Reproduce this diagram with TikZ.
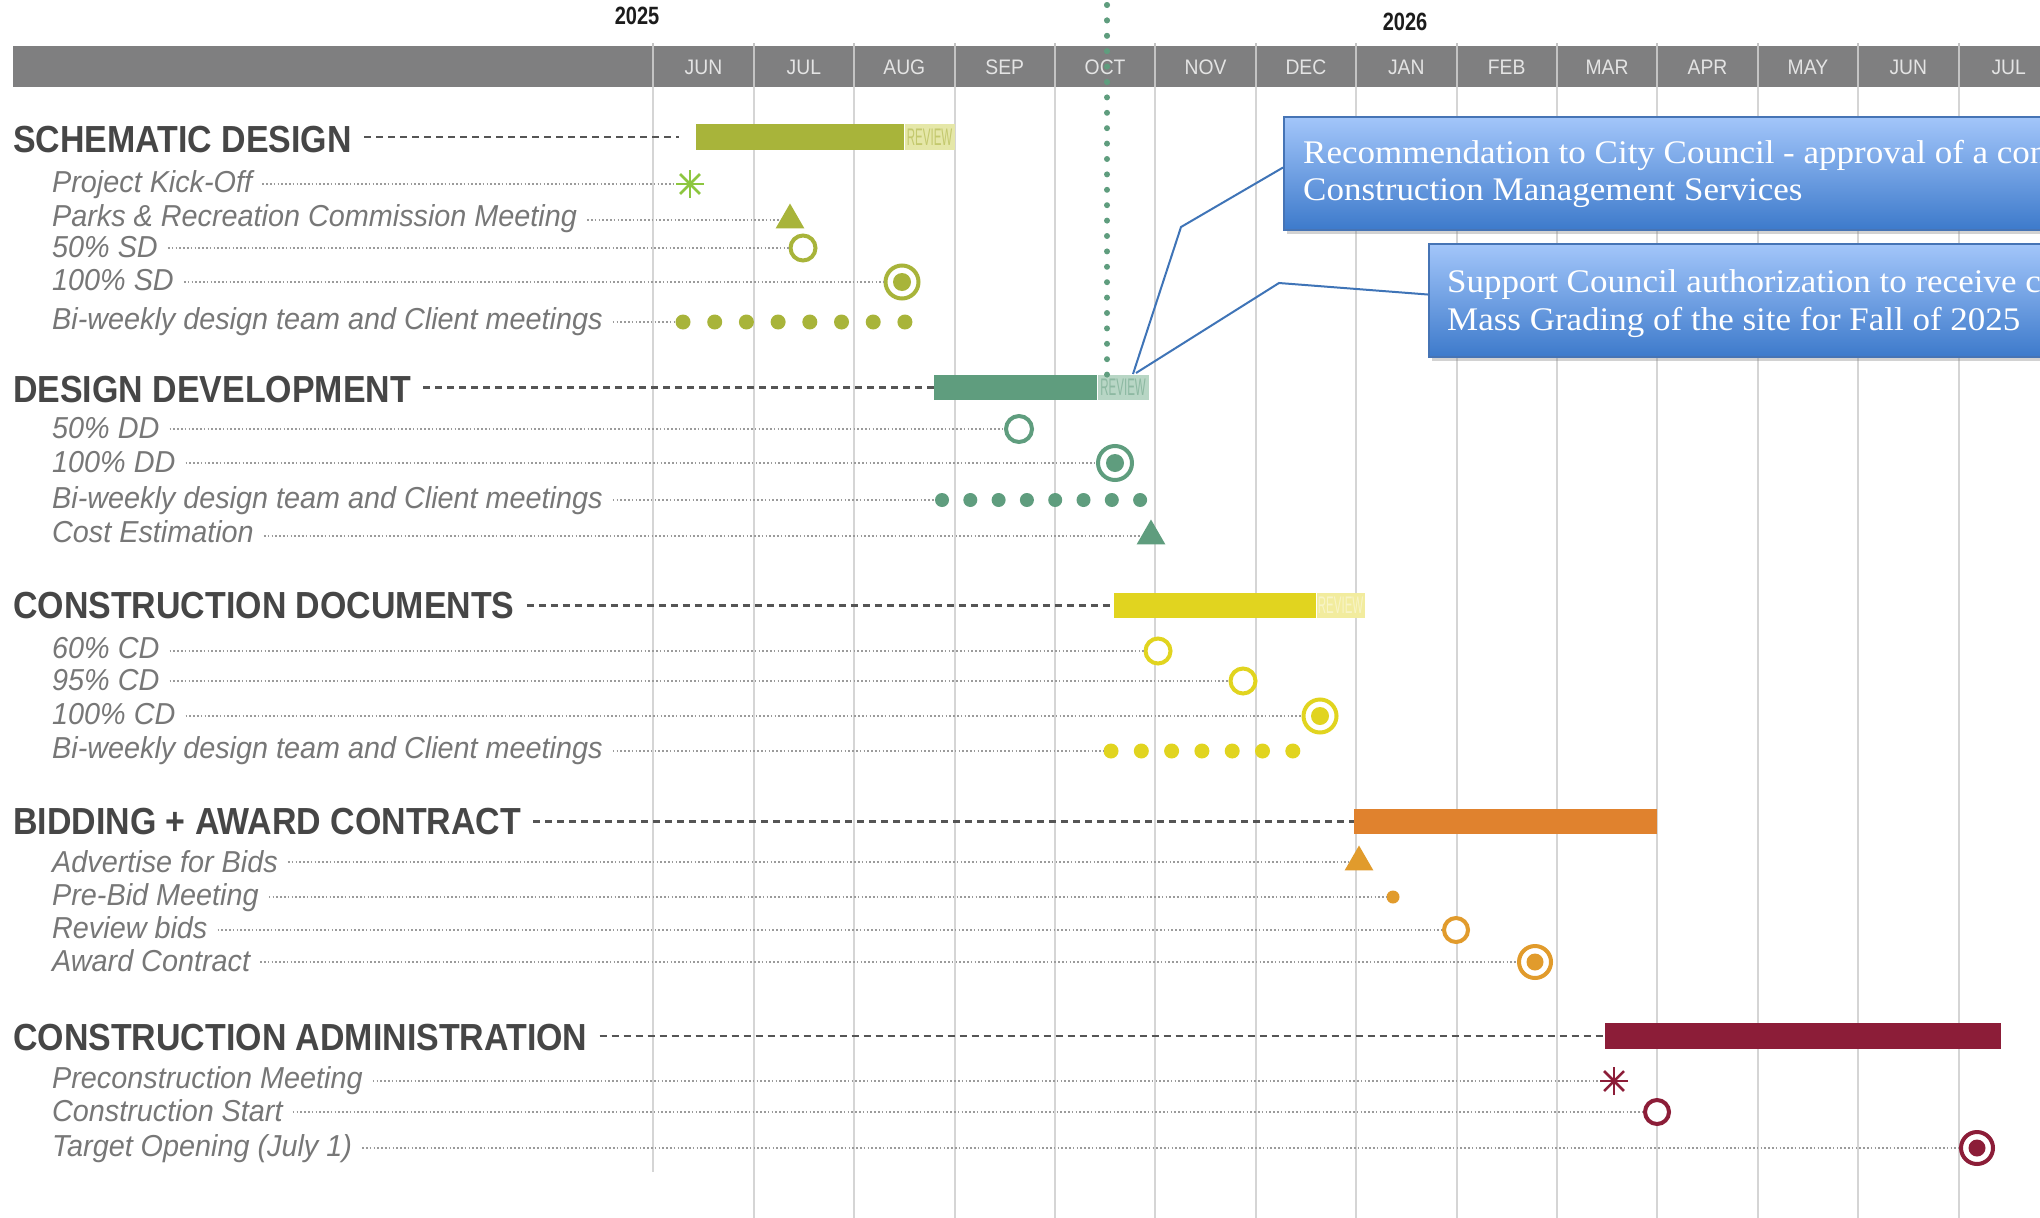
\documentclass[tikz,border=0pt]{standalone}
\usepackage{fontspec}
\usetikzlibrary{shapes.geometric,shadows,calc}
\newfontfamily\headfont[FakeStretch=0.9]{Liberation Sans}
\newfontfamily\itemfont[FakeStretch=0.95]{Liberation Sans}
\newfontfamily\yearfont[FakeStretch=0.8]{Liberation Sans}
\newfontfamily\monthfont[FakeStretch=0.92]{Liberation Sans}
\newfontfamily\revfont[FakeStretch=0.48]{Liberation Sans}
\newfontfamily\boxfont[FakeStretch=1.06]{Liberation Serif}
\definecolor{headc}{HTML}{464646}
\definecolor{itemc}{HTML}{777777}
\definecolor{dashc}{HTML}{555555}
\definecolor{ldrc}{HTML}{9B9B9B}
\definecolor{gridc}{HTML}{D5D5D5}
\definecolor{hdr}{HTML}{7F7F80}
\definecolor{sepc}{HTML}{C4C4C4}
\definecolor{monc}{HTML}{E4E4E4}
\definecolor{yrc}{HTML}{1C1C1C}
\definecolor{sdc}{HTML}{A8B43A}
\definecolor{sdrev}{HTML}{E5E7A8}
\definecolor{sdrevt}{HTML}{C4C96E}
\definecolor{sdast}{HTML}{8DC63F}
\definecolor{ddc}{HTML}{5F9D7E}
\definecolor{ddrev}{HTML}{B8D6C5}
\definecolor{ddrevt}{HTML}{8DB9A2}
\definecolor{cdc}{HTML}{E1D41F}
\definecolor{cdrev}{HTML}{F2EC9E}
\definecolor{cdrevt}{HTML}{F8F4C6}
\definecolor{bac}{HTML}{E0822E}
\definecolor{bam}{HTML}{E19B2C}
\definecolor{cac}{HTML}{8C1D38}
\definecolor{boxtop}{HTML}{A3C6FA}
\definecolor{boxbot}{HTML}{3D7ACB}
\definecolor{boxedge}{HTML}{4674B5}
\definecolor{connc}{HTML}{3F74B7}
\begin{document}
\begin{tikzpicture}[x=1pt,y=-1pt,
  htext/.style={font=\headfont\bfseries\fontsize{37.7}{40}\selectfont, text=headc, anchor=base west, inner xsep=12pt, inner ysep=0pt},
  itext/.style={font=\itemfont\itshape\fontsize{30.3}{32}\selectfont, text=itemc, anchor=base west, inner xsep=10pt, inner ysep=0pt},
  hdline/.style={draw=dashc, line width=2.5pt, dash pattern=on 7pt off 5pt},
  ldr/.style={draw=ldrc, line width=2pt, dash pattern=on 1.6pt off 2.2pt},
  gline/.style={draw=gridc, line width=2pt},
  gbar/.style={rectangle, inner sep=0pt, anchor=north west, minimum height=26pt},
  grev/.style={rectangle, inner sep=0pt, anchor=north west, minimum height=26pt, font=\revfont\fontsize{24}{24}\selectfont},
  mring/.style={circle, draw=#1, fill=white, line width=4pt, inner sep=0pt, minimum size=25pt},
  mtarget/.style={circle, draw=#1, fill=white, line width=4pt, inner sep=0pt, minimum size=33pt},
  mdot/.style={circle, fill=#1, inner sep=0pt, minimum size=15pt},
  mtri/.style={regular polygon, regular polygon sides=3, fill=#1, inner sep=0pt, minimum size=33pt},
  mast/.style={circle, inner sep=0pt, minimum size=28pt},
  spoke/.style={draw=#1, line width=2.5pt},
  monthlbl/.style={font=\monthfont\fontsize{21}{21}\selectfont, text=monc, inner sep=0pt},
  yearlbl/.style={font=\yearfont\bfseries\fontsize{25}{25}\selectfont, text=yrc, inner sep=0pt},
  callout/.style={rectangle, draw=boxedge, line width=1.5pt, top color=boxtop, bottom color=boxbot, inner sep=0pt, anchor=north west, minimum width=900pt, minimum height=113pt, drop shadow={shadow xshift=3pt, shadow yshift=-4pt, opacity=0.35}},
  boxtxt/.style={font=\boxfont\fontsize{33}{37}\selectfont, text=white, anchor=base west, inner sep=0pt},
  conn/.style={draw=connc, line width=2pt},
  octline/.style={draw=ddc, line width=6pt, line cap=round, dash pattern=on 0pt off 15.4pt}
]
\useasboundingbox (0,0) rectangle (2040,1218);
\clip (0,0) rectangle (2040,1218);
\fill[white] (0,0) rectangle (2040,1218);
\def\xo{653.3}
\def\mw{100.4}
% grid lines
\draw[gline] (\xo,87) -- (\xo,1172);
\foreach \i in {1,...,13} \draw[gline] ({\xo+\mw*\i},87) -- ({\xo+\mw*\i},1218);
% header
\fill[hdr] (13,46) rectangle (2040,87);
\foreach \i in {0,...,13} \draw[draw=sepc, line width=2pt] ({\xo+\mw*\i},43) -- ({\xo+\mw*\i},87);
\foreach \m [count=\i from 0] in {JUN,JUL,AUG,SEP,OCT,NOV,DEC,JAN,FEB,MAR,APR,MAY,JUN,JUL}
  \node[monthlbl] (mon\i) at ({\xo+\mw*(\i+0.5)},67) {\m};
\node[yearlbl] (y25) at (637,16) {2025};
\node[yearlbl] (y26) at (1405,22) {2026};

% ===== SCHEMATIC DESIGN
\node[htext] (sdh) at (1,152) {SCHEMATIC DESIGN};
\node[gbar, fill=sdc, minimum width=208pt] (sdbar) at (696,124) {};
\node[grev, fill=sdrev, text=sdrevt, minimum width=50pt] (sdrv) at (sdbar.north east) {REVIEW};
\draw[hdline] (sdh.east |- sdbar.west) -- ($(sdbar.west)+(-17,0)$);
\node[itext] (sd1) at (42,192) {Project Kick-Off};
\node[itext] (sd2) at (42,226) {Parks \& Recreation Commission Meeting};
\node[itext] (sd3) at (42,257) {50\% SD};
\node[itext] (sd4) at (42,290) {100\% SD};
\node[itext] (sd5) at (42,329) {Bi-weekly design team and Client meetings};
\node[mast] (sdk) at (690,184) {};
\node[mtri=sdc] (sdp) at (790,220) {};
\node[mring=sdc] (sdr) at (803,248) {};
\node[mtarget=sdc] (sdt) at (902,282) {};
\foreach \k in {0,...,7} \node[mdot=sdc] (sdb\k) at ({683+31.7*\k},322) {};
\draw[ldr] (sd1.east |- sdk) -- (sdk.west);
\draw[ldr] (sd2.east |- sdp) -- (sdp.west);
\draw[ldr] (sd3.east |- sdr) -- (sdr.west);
\draw[ldr] (sd4.east |- sdt) -- (sdt.west);
\draw[ldr] (sd5.east |- sdb0) -- (sdb0.west);
\foreach \a in {0,45,90,135} \draw[spoke=sdast] ($(sdk)+(\a:14)$) -- ($(sdk)+(\a+180:14)$);
\fill[sdc] (sdt) circle[radius=9pt];

% ===== DESIGN DEVELOPMENT
\node[htext] (ddh) at (1,402.5) {DESIGN DEVELOPMENT};
\node[gbar, fill=ddc, minimum width=163pt, minimum height=25pt] (ddbar) at (934,375) {};
\node[grev, fill=ddrev, text=ddrevt, minimum width=51pt, minimum height=25pt] (ddrv) at (ddbar.north east) {REVIEW};
\draw[hdline] (ddh.east |- ddbar.west) -- (ddbar.west);
\node[itext] (dd1) at (42,438) {50\% DD};
\node[itext] (dd2) at (42,472) {100\% DD};
\node[itext] (dd3) at (42,508) {Bi-weekly design team and Client meetings};
\node[itext] (dd4) at (42,542) {Cost Estimation};
\node[mring=ddc, minimum size=26pt] (ddr) at (1019,429) {};
\node[mtarget=ddc, minimum size=34pt] (ddt) at (1115,463) {};
\foreach \k in {0,...,7} \node[mdot=ddc, minimum size=14pt] (ddb\k) at ({942+28.3*\k},500) {};
\node[mtri=ddc] (ddc1) at (1151,536) {};
\draw[ldr] (dd1.east |- ddr) -- (ddr.west);
\draw[ldr] (dd2.east |- ddt) -- (ddt.west);
\draw[ldr] (dd3.east |- ddb0) -- (ddb0.west);
\draw[ldr] (dd4.east |- ddc1) -- (ddc1.west);
\fill[ddc] (ddt) circle[radius=9pt];

% ===== CONSTRUCTION DOCUMENTS
\node[htext] (cdh) at (1,618.5) {CONSTRUCTION DOCUMENTS};
\node[gbar, fill=cdc, minimum width=202pt, minimum height=25pt] (cdbar) at (1114,593) {};
\node[grev, fill=cdrev, text=cdrevt, minimum width=48pt, minimum height=25pt] (cdrv) at (cdbar.north east) {REVIEW};
\draw[hdline] (cdh.east |- cdbar.west) -- (cdbar.west);
\node[itext] (cd1) at (42,658) {60\% CD};
\node[itext] (cd2) at (42,690) {95\% CD};
\node[itext] (cd3) at (42,724) {100\% CD};
\node[itext] (cd4) at (42,758) {Bi-weekly design team and Client meetings};
\node[mring=cdc] (cdr1) at (1158,651) {};
\node[mring=cdc] (cdr2) at (1243,681) {};
\node[mtarget=cdc] (cdt) at (1320,716) {};
\foreach \k in {0,...,6} \node[mdot=cdc] (cdb\k) at ({1111+30.3*\k},751) {};
\draw[ldr] (cd1.east |- cdr1) -- (cdr1.west);
\draw[ldr] (cd2.east |- cdr2) -- (cdr2.west);
\draw[ldr] (cd3.east |- cdt) -- (cdt.west);
\draw[ldr] (cd4.east |- cdb0) -- (cdb0.west);
\fill[cdc] (cdt) circle[radius=9pt];

% ===== BIDDING + AWARD CONTRACT
\node[htext] (bah) at (1,834.5) {BIDDING + AWARD CONTRACT};
\node[gbar, fill=bac, minimum width=303pt, minimum height=25pt] (babar) at (1354,809) {};
\draw[hdline] (bah.east |- babar.west) -- (babar.west);
\node[itext] (ba1) at (42,872) {Advertise for Bids};
\node[itext] (ba2) at (42,905) {Pre-Bid Meeting};
\node[itext] (ba3) at (42,938) {Review bids};
\node[itext] (ba4) at (42,971) {Award Contract};
\node[mtri=bam] (bat) at (1359,862) {};
\node[mdot=bam, minimum size=13pt] (bad) at (1393,897) {};
\node[mring=bam, minimum size=24pt] (bar) at (1456,930) {};
\node[mtarget=bam, minimum size=32pt] (baw) at (1535,962) {};
\draw[ldr] (ba1.east |- bat) -- (bat.west);
\draw[ldr] (ba2.east |- bad) -- (bad.west);
\draw[ldr] (ba3.east |- bar) -- (bar.west);
\draw[ldr] (ba4.east |- baw) -- (baw.west);
\fill[bam] (baw) circle[radius=8.5pt];

% ===== CONSTRUCTION ADMINISTRATION
\node[htext] (cah) at (1,1050.5) {CONSTRUCTION ADMINISTRATION};
\node[gbar, fill=cac, minimum width=396pt, minimum height=26pt] (cabar) at (1605,1023) {};
\draw[hdline] (cah.east |- cabar.west) -- (cabar.west);
\node[itext] (ca1) at (42,1088) {Preconstruction Meeting};
\node[itext] (ca2) at (42,1121) {Construction Start};
\node[itext] (ca3) at (42,1156) {Target Opening (July 1)};
\node[mast] (cak) at (1614,1081) {};
\node[mring=cac, minimum size=24pt] (car) at (1657,1112) {};
\node[mtarget=cac, minimum size=32pt] (cat) at (1977,1148) {};
\draw[ldr] (ca1.east |- cak) -- (cak.west);
\draw[ldr] (ca2.east |- car) -- (car.west);
\draw[ldr] (ca3.east |- cat) -- (cat.west);
\foreach \a in {0,45,90,135} \draw[spoke=cac] ($(cak)+(\a:14)$) -- ($(cak)+(\a+180:14)$);
\fill[cac] (cat) circle[radius=8.5pt];

% ===== OCT dotted marker line
\draw[octline] (1107,5) -- (1107,377);
\draw[octline, opacity=0.45] (1107,5) -- (1107,95);

% ===== callouts
\node[callout] (cb1) at (1283,116) {};
\node[callout] (cb2) at (1428,243) {};
\coordinate (c1a) at (1181,227);
\coordinate (c1b) at (1133,374);
\coordinate (c2a) at (1279,283);
\coordinate (c2b) at (1136,373);
\draw[conn] ($(cb1.north west)!0.45!(cb1.south west)$) -- (c1a) -- (c1b);
\draw[conn] ($(cb2.north west)!0.45!(cb2.south west)$) -- (c2a) -- (c2b);
\node[boxtxt] (cb1a) at (1303,163) {Recommendation to City Council - approval of a con};
\node[boxtxt] (cb1b) at (1303,200) {Construction Management Services};
\node[boxtxt] (cb2a) at (1447,292) {Support Council authorization to receive c};
\node[boxtxt] (cb2b) at (1447,330) {Mass Grading of the site for Fall of 2025};
\end{tikzpicture}
\end{document}
